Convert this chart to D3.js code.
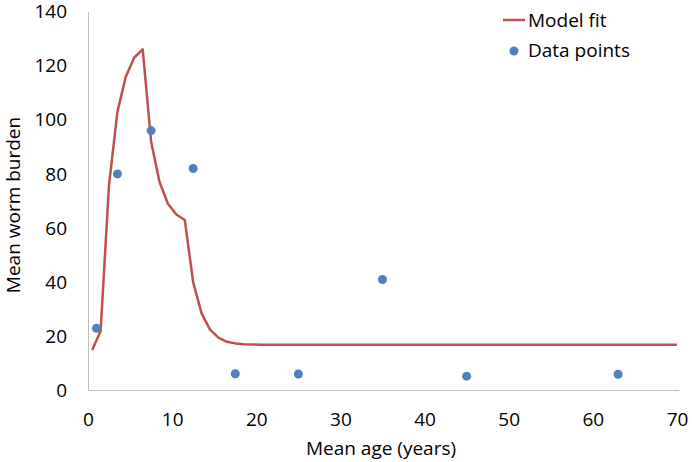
<!DOCTYPE html>
<html>
<head>
<meta charset="utf-8">
<script src="https://cdn.jsdelivr.net/npm/d3@7"></script>
<style>
  html, body { margin: 0; padding: 0; background: #fff; }
  svg text { font-family: "Open Sans", sans-serif; fill: #000; }
</style>
</head>
<body>
<svg id="chart" width="692" height="462"></svg>
<script>
// Model fit curve (age in years, mean worm burden)
const modelAge = [0.5, 1.5, 2.5, 3.5, 4.5, 5.5, 6.5, 7.5, 8.5, 9.5, 10.5, 11.5, 12.5, 13.5, 14.5, 15.5, 16.5, 17.5, 18.5, 19.5, 20.5, 22.5, 25, 30, 40, 50, 60, 70];
const modelBurden = [15, 22, 76, 103, 116, 123, 126, 92, 77, 69, 65, 63, 40, 28.5, 22.5, 19.5, 18, 17.4, 17.1, 17.0, 16.9, 16.9, 16.9, 16.9, 16.9, 16.9, 16.9, 16.9];

// Observed data points
const dataAge = [1, 3.5, 7.5, 12.5, 17.5, 25, 35, 45, 63];
const dataBurden = [23, 80, 96, 82, 6.2, 6.1, 41, 5.3, 6.0];

const xTicks = [0, 10, 20, 30, 40, 50, 60, 70];
const yTicks = [0, 20, 40, 60, 80, 100, 120, 140];
const seriesNames = ["Model fit", "Data points"];

const FS = "19px";
const svg = d3.select("#chart");
const x = d3.scaleLinear().domain([0, 70]).range([88, 677]);
const y = d3.scaleLinear().domain([0, 140]).range([390.5, 11.5]);

const axisColor = "#bfbfbf";

// Y axis
const yAxis = svg.append("g").attr("transform", "translate(88,0)")
  .call(d3.axisLeft(y).tickValues(yTicks).tickSize(0).tickPadding(21));
yAxis.select(".domain").attr("stroke", axisColor).attr("stroke-width", 1);
yAxis.selectAll("text").style("font-size", FS).style("font-family", "'Open Sans', sans-serif").attr("fill", "#000");

// X axis
const xAxis = svg.append("g").attr("transform", "translate(0,390.5)")
  .call(d3.axisBottom(x).tickValues(xTicks).tickSize(0).tickPadding(22));
xAxis.select(".domain").attr("stroke", axisColor).attr("stroke-width", 1)
  .attr("d", `M${x(0)},0H${x(70) + 2}`);
xAxis.selectAll("text").style("font-size", FS).style("font-family", "'Open Sans', sans-serif").attr("fill", "#000");

// Axis titles
svg.append("text")
  .attr("x", 381).attr("y", 455)
  .attr("text-anchor", "middle")
  .style("font-size", FS)
  .text("Mean age (years)");

svg.append("text")
  .attr("transform", "translate(13,205) rotate(-90)")
  .attr("text-anchor", "middle")
  .attr("dominant-baseline", "central")
  .style("font-size", FS)
  .text("Mean worm burden");

// Model line
const modelData = modelAge.map((a, i) => [a, modelBurden[i]]);
svg.append("path")
  .datum(modelData)
  .attr("fill", "none")
  .attr("stroke", "#C0504D")
  .attr("stroke-width", 2.5)
  .attr("stroke-linejoin", "round")
  .attr("d", d3.line().x(d => x(d[0])).y(d => y(d[1])));

// Data points
svg.append("g").selectAll("circle")
  .data(dataAge.map((a, i) => [a, dataBurden[i]]))
  .join("circle")
  .attr("cx", d => x(d[0]))
  .attr("cy", d => y(d[1]))
  .attr("r", 4.5)
  .attr("fill", "#4F81BD");

// Legend
const legend = svg.append("g");
legend.append("line")
  .attr("x1", 503).attr("x2", 525).attr("y1", 20).attr("y2", 20)
  .attr("stroke", "#C0504D").attr("stroke-width", 2.5);
legend.append("text")
  .attr("x", 528).attr("y", 20).attr("dominant-baseline", "central")
  .style("font-size", FS).text(seriesNames[0]);
legend.append("circle")
  .attr("cx", 514).attr("cy", 51).attr("r", 4.5).attr("fill", "#4F81BD");
legend.append("text")
  .attr("x", 528).attr("y", 50).attr("dominant-baseline", "central")
  .style("font-size", FS).text(seriesNames[1]);
</script>
</body>
</html>
